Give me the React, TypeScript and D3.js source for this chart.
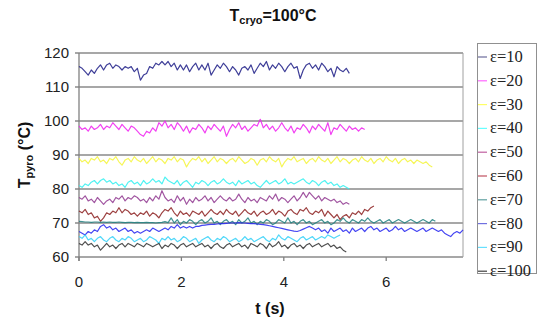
import React from "react";
import * as d3 from "d3";

const STEP = 0.06;
const seriesNames = ["ε=10", "ε=20", "ε=30", "ε=40", "ε=50", "ε=60", "ε=70", "ε=80", "ε=90", "ε=100"];
const seriesColors = ["#1c1c86", "#f020f0", "#f4f43a", "#30f0f0", "#903890", "#8c2020", "#208080", "#2424f0", "#30d0f8", "#303030"];
const legendColors = ["#6a6a9a", "#ff66ff", "#ffff66", "#66ffff", "#c060a0", "#c05060", "#60a0a0", "#7070e0", "#66e0ff", "#404040"];

const eps10 = [116, 115.5, 114.5, 113.5, 115, 114, 115.5, 116.5, 115, 116.5,
  117, 115.5, 116.5, 116, 115, 116, 115.5, 116, 114.5, 115.5,
  112, 113.5, 114, 116, 115.5, 117, 116.5, 117.5, 116.5, 117.5,
  116, 117, 115, 116.5, 115, 116.5, 114.5, 116, 117, 115,
  116.5, 115, 117, 113.5, 115, 116.5, 115.5, 117, 116, 114.5,
  116, 115, 113.5, 115.5, 116, 115, 116.5, 114, 115.5, 117,
  116, 117.5, 115, 116.5, 115.5, 117, 116, 114.5, 116, 117,
  115.5, 116, 112.5, 115, 116.5, 117, 115.5, 116.5, 115, 117,
  116, 114.5, 115.5, 113, 116, 115, 114.5, 115.5, 114];
const eps20 = [98.5, 97.5, 98, 97, 98.5, 97.5, 98, 99, 97.5, 98.5,
  98, 99.5, 98.5, 97.5, 99, 98, 97, 98.5, 98, 97,
  96, 95.5, 97, 96.5, 98, 97, 99.5, 98.5, 100, 98,
  99, 97.5, 99.5, 98.5, 97, 98.5, 96.5, 98, 97.5, 99,
  98, 96.5, 98.5, 97.5, 99, 98, 97, 98.5, 95.5, 97.5,
  99, 98, 99.5, 97.5, 98.5, 97, 98, 99, 98.5, 100.5,
  98, 99, 97.5, 98.5, 97, 98, 99.5, 98, 97, 98.5,
  96.5, 98, 97.5, 99, 98, 96.5, 98.5, 97.5, 99, 98,
  97, 99.5, 96, 98, 97.5, 99, 98, 97, 98.5, 97.5,
  98, 97, 98, 97.5];
const eps30 = [89, 88, 88.5, 87.5, 89, 88.5, 89.5, 88, 88.5, 87.5,
  89, 88.5, 89.5, 88, 87, 88.5, 89, 88, 89.5, 88.5,
  88, 89, 87.5, 88.5, 89.5, 88, 89, 88.5, 87.5, 89,
  88.5, 89.5, 88, 89, 88.5, 86.5, 88, 89, 88.5, 89.5,
  88, 89, 87.5, 88.5, 89.5, 88, 89, 88.5, 87.5, 88.5,
  89, 88, 89.5, 88.5, 87.5, 88, 89, 88.5, 87, 88.5,
  89, 88, 89.5, 88.5, 88, 89, 86.5, 88, 89, 88.5,
  89.5, 88, 88.5, 89, 87.5, 88.5, 89, 88, 89.5, 88.5,
  88, 89, 87.5, 88.5, 89.5, 88, 89, 88.5, 87.5, 88.5,
  89, 88, 89.5, 88.5, 88, 89, 87.5, 88.5, 89, 88,
  89.5, 88.5, 88, 89, 87.5, 88.5, 89, 88, 88.5, 87.5,
  88.5, 88, 87.5, 88, 87, 86.5];
const eps40 = [81, 80.5, 81.5, 81, 82, 82.5, 81.5, 82.5, 83, 82,
  82.5, 81.5, 82, 81, 81.5, 80.5, 82, 82.5, 81.5, 82,
  81, 82.5, 81.5, 82, 83, 82, 82.5, 81.5, 83.5, 82.5,
  82, 81.5, 82.5, 81, 82, 82.5, 81.5, 80.5, 82, 81.5,
  82.5, 82, 81, 82, 82.5, 81.5, 82, 83, 82, 81.5,
  82, 81, 82.5, 81.5, 82, 82.5, 81.5, 82, 81, 80.5,
  81.5, 82.5, 81.5, 82, 82.5, 81.5, 82, 83, 81.5, 82,
  81.5, 82, 82.5, 83, 82, 81.5, 82.5, 82, 81, 82,
  82.5, 81.5, 82, 81, 81.5, 80.5, 81, 80.5, 80];
const eps50 = [77.5, 77, 78, 76.5, 77, 76, 77.5, 76.5, 75.5, 76.5,
  77, 76, 77.5, 77, 78, 76.5, 77.5, 77, 78, 77.5,
  76.5, 77, 76, 77.5, 76.5, 78, 77, 79.5, 77.5, 76.5,
  77, 76, 78, 76.5, 77.5, 75.5, 77, 76, 77.5, 76.5,
  77, 78, 76.5, 77.5, 76, 77, 78, 77, 76.5, 77.5,
  76.5, 77, 78.5, 77, 76, 77.5, 76.5, 77, 76, 77.5,
  77, 76.5, 78, 77, 78.5, 76.5, 77.5, 77, 76, 77,
  78, 76.5, 77.5, 79, 77.5, 79, 78, 77, 78, 76.5,
  77.5, 77, 76.5, 77, 76, 76.5, 75.5, 76, 75.5];
const eps60 = [73.5, 73, 74, 72.5, 73, 71.5, 72, 70.5, 71.5, 73,
  72.5, 73.5, 73, 74.5, 73, 74, 73.5, 72.5, 73, 72,
  73, 72.5, 73.5, 72, 73, 72.5, 71.5, 73, 74, 73.5,
  74.5, 73, 72, 73.5, 72.5, 73, 72, 73.5, 73, 72.5,
  73.5, 72, 73, 74, 73, 72.5, 73.5, 72.5, 74, 73,
  72.5, 73.5, 72, 73, 74, 73, 72.5, 73.5, 72, 73,
  73.5, 72.5, 73, 74, 72.5, 73.5, 73, 72, 73.5, 74,
  73, 72.5, 74, 73.5, 74.5, 73, 72.5, 73.5, 73, 74,
  72, 73.5, 72.5, 71.5, 72.5, 71, 72, 72.5, 71.5, 73,
  72.5, 73.5, 72.5, 74, 73.5, 74.5, 75];
const eps70 = [70.5, 70.4, 70.3, 70.3, 70.2, 70.3, 70.3, 70.2, 70.3, 70.2,
  70.3, 70.2, 70.2, 70.3, 70.2, 70.1, 70.2, 70.2, 70.1, 70.2,
  70.1, 70.1, 70.2, 70.1, 70.1, 70, 70.1, 70.2, 70.4, 70.1,
  71.5, 70, 71, 69.5, 70.5, 70, 71, 70.5, 69.5, 70.5,
  71, 70, 70.5, 71.5, 70, 70.5, 69.5, 70.5, 71, 70,
  70.5, 69.5, 71, 70, 70.5, 71.5, 70, 70.5, 69.5, 70.5,
  70, 71, 70.5, 69.5, 70, 71, 70.5, 70, 71.5, 70,
  70.5, 69.5, 70.5, 71, 70, 70.5, 69.5, 70, 70.5, 71,
  70, 70.5, 69.5, 70, 71, 70.5, 71.5, 70.5, 70, 71,
  70.5, 70, 71, 70.5, 71.5, 70.5, 70, 70.5, 71, 70,
  70.5, 71, 70, 70.5, 71, 70.5, 70, 70.5, 71, 70.5,
  70, 70.5, 71, 70.5, 70, 71, 70.5];
const eps80 = [67.5, 67, 66.5, 67.5, 67, 68, 67.5, 69, 69.5, 68.5,
  69, 68, 68.5, 67.5, 68, 68.5, 67.5, 68, 67, 67.5,
  67, 67.5, 68, 67.5, 68.5, 68, 67.5, 68, 68.5, 68,
  69, 68.5, 69.5, 68.5, 69, 68.5, 69, 68.5, 69, 69,
  69.3, 69.4, 69.5, 69.6, 69.6, 69.7, 69.8, 69.8, 69.9, 70,
  70, 70, 70.1, 70, 70, 69.9, 69.8, 69.8, 69.7, 69.6,
  69.5, 69.4, 69.2, 69, 68.8, 68.6, 68.4, 68.2, 68, 67.8,
  67.6, 67.5, 67.8, 68.2, 68.6, 69, 68.5, 68, 68.5, 67.5,
  68, 67, 68.5, 67.5, 68, 68.5, 67.5, 68, 67, 68.5,
  67.5, 68, 68.5, 67.5, 68.5, 69, 68, 68.5, 67.5, 68,
  68.5, 67.5, 68, 69, 68, 68.5, 67.5, 68, 68.5, 68,
  67.5, 68, 68.5, 67.5, 68, 68.5, 68, 67.5, 68, 67,
  66.5, 66, 67, 67.5, 67, 68];
const eps90 = [66, 65.5, 66.5, 65, 65.5, 64.5, 65.5, 66, 65, 64.5,
  65.5, 66, 65, 64.5, 65.5, 65, 66, 65.5, 64.5, 65,
  65.5, 64.5, 65, 66, 65.5, 65, 64, 65.5, 65, 66,
  65, 65.5, 64.5, 65, 66, 65.5, 64.5, 65, 65.5, 64,
  65, 65.5, 66, 65, 64.5, 65.5, 65, 66, 65.5, 64.5,
  65, 65.5, 64.5, 65, 66, 65, 65.5, 64.5, 65, 65.5,
  66, 65, 64.5, 65.5, 65, 66.5, 65.5, 65, 66, 65.5,
  65, 64.5, 65.5, 66, 65, 65.5, 66, 65, 65.5, 66,
  65.5, 66.5, 66, 65.5, 66, 66.5];
const eps100 = [64, 63.5, 64.5, 63.5, 64, 63, 63.5, 62, 63, 64,
  63, 63.5, 62.5, 63.5, 64, 63, 64, 63.5, 63, 64,
  63.5, 63, 64, 63.5, 63, 63.5, 64, 62.5, 63.5, 63,
  64, 63.5, 62.5, 63.5, 64, 63, 63.5, 64, 63, 63.5,
  64, 63, 63.5, 62.5, 63.5, 64, 63, 62.5, 63.5, 64,
  63, 63.5, 64, 63, 63.5, 62.5, 64, 63.5, 63, 64,
  63.5, 62.5, 64, 63, 63.5, 64.5, 63, 63.5, 62.5, 63.5,
  64, 63, 63.5, 62.5, 63.5, 64, 63, 63.5, 64, 63,
  63.5, 64, 63, 63.5, 62.5, 63, 62, 61.5];

const seriesValues = [eps10, eps20, eps30, eps40, eps50, eps60, eps70, eps80, eps90, eps100];
const yTicks = [60, 70, 80, 90, 100, 110, 120];
const xTicks = [0, 2, 4, 6];

const W = 537, H = 321;
const x = d3.scaleLinear().domain([0, 7.5]).range([79, 463]);
const y = d3.scaleLinear().domain([60, 120]).range([257, 53]);
const line = d3.line<number>().x((_, i) => x(i * STEP)).y((v) => y(v));

export default function App() {
  const sans = "Arial, 'Liberation Sans', sans-serif";
  return (
    <svg width={W} height={H} style={{ position: "absolute", left: 0, top: 0, background: "#fff" }}>
      {yTicks.map((t) => (
        <line key={t} x1={75} x2={463} y1={y(t)} y2={y(t)} stroke="#8a8a8a" strokeWidth={1.3} />
      ))}
      <line x1={463} x2={463} y1={53} y2={257} stroke="#a0a0a0" strokeWidth={1} />
      <line x1={79} x2={79} y1={53} y2={261} stroke="#808080" strokeWidth={1.3} />
      {xTicks.map((t) => (
        <line key={t} x1={x(t)} x2={x(t)} y1={257} y2={261} stroke="#808080" strokeWidth={1.3} />
      ))}
      {seriesValues.map((vals, k) => (
        <path key={k} d={line(vals) || ""} fill="none" stroke={seriesColors[k]} strokeWidth={1.2} strokeOpacity={0.85} strokeLinejoin="round" />
      ))}
      {yTicks.map((t) => (
        <text key={t} x={69} y={y(t)} dy="0.36em" textAnchor="end" fontFamily={sans} fontSize={15} fill="#222">{t}</text>
      ))}
      {xTicks.map((t) => (
        <text key={t} x={x(t)} y={287} textAnchor="middle" fontFamily={sans} fontSize={15} fill="#222">{t}</text>
      ))}
      <text x={273} y={21} textAnchor="middle" fontFamily={sans} fontSize={16} fontWeight="bold" fill="#111">
        T<tspan fontSize={11} dy={3}>cryo</tspan><tspan dy={-3}>=100°C</tspan>
      </text>
      <text x={270} y={314} textAnchor="middle" fontFamily={sans} fontSize={16} fontWeight="bold" fill="#111">t (s)</text>
      <text transform="translate(30,155) rotate(-90)" textAnchor="middle" fontFamily={sans} fontSize={16} fontWeight="bold" fill="#111">
        T<tspan fontSize={11} dy={3}>pyro</tspan><tspan dy={-3}> (°C)</tspan>
      </text>
      <rect x={477.5} y={43.5} width={59} height={230} fill="#fff" stroke="#909090" strokeWidth={1} />
      {seriesNames.map((n, k) => {
        const ly = 57 + k * 23.8;
        return (
          <g key={n}>
            <line x1={478} x2={487} y1={ly} y2={ly} stroke={legendColors[k]} strokeWidth={1.2} />
            <text x={490} y={ly + 5} fontFamily="'Times New Roman', 'Liberation Serif', serif" fontSize={16.5} fill="#222">{n}</text>
          </g>
        );
      })}
    </svg>
  );
}
